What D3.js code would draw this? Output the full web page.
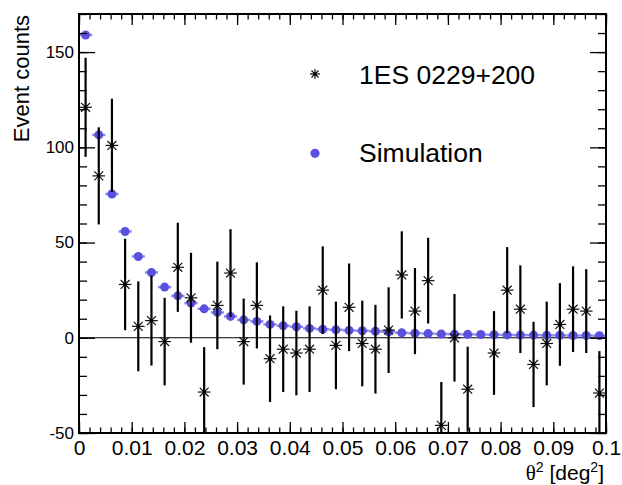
<!DOCTYPE html>
<html>
<head>
<meta charset="utf-8">
<script src="https://cdn.jsdelivr.net/npm/d3@7"></script>
<style>
  html, body { margin: 0; padding: 0; background: #fff; }
  svg { display: block; }
  text { font-family: "Liberation Sans", Arial, Helvetica, sans-serif; fill: #000; }
</style>
</head>
<body>
<script>
// theta^2 bins (centres, deg^2)
const binCenters = [
  0.00125, 0.00375, 0.00625, 0.00875, 0.01125, 0.01375, 0.01625, 0.01875,
  0.02125, 0.02375, 0.02625, 0.02875, 0.03125, 0.03375, 0.03625, 0.03875,
  0.04125, 0.04375, 0.04625, 0.04875, 0.05125, 0.05375, 0.05625, 0.05875,
  0.06125, 0.06375, 0.06625, 0.06875, 0.07125, 0.07375, 0.07625, 0.07875,
  0.08125, 0.08375, 0.08625, 0.08875, 0.09125, 0.09375, 0.09625, 0.09875
];
const binWidth = 0.0025;

// 1ES 0229+200 excess counts and their errors
const dataCounts = [
  121, 85, 101, 28, 6, 9, -2, 37,
  21, -28.5, 17, 34, -2, 17, -11, -6,
  -8, -6, 25, -4, 16, -3, -6, 4,
  33, 14, 30, -46, 0, -27, -78, -8,
  25, 15, -14, -3, 7, 15, 14, -29
];
const dataErrors = [
  26, 25.5, 24.5, 24, 23.6, 23.6, 23, 23.4,
  23.6, 23.6, 23, 23, 22.6, 22.6, 22.7, 22.5,
  22.2, 22.5, 23, 23, 23, 22.5, 23.3, 22.5,
  22.9, 22.6, 22.5, 22.8, 23, 22.3, 22, 22,
  22.6, 23, 22.4, 22, 21.7, 22.5, 22, 22
];

// Simulated point-source profile
const simCounts = [
  159, 106.5, 75.5, 55.8, 42.7, 34.3, 26.6, 22,
  18.2, 15.2, 13.3, 11.2, 9.4, 8.6, 7.0, 6.3,
  5.8, 4.9, 4.5, 4.2, 3.9, 3.7, 3.4, 3.1,
  2.6, 2.4, 2.2, 2.0, 1.9, 1.8, 1.7, 1.6,
  1.5, 1.4, 1.4, 1.3, 1.3, 1.2, 1.2, 1.1
];

// Axis ticks and labels
const xTickValues = [0, 0.01, 0.02, 0.03, 0.04, 0.05, 0.06, 0.07, 0.08, 0.09, 0.1];
const xTickLabels = ["0", "0.01", "0.02", "0.03", "0.04", "0.05", "0.06", "0.07", "0.08", "0.09", "0.1"];
const xMinorTicks = d3.range(0, 51).map(i => i * 0.002);
const yTickValues = [-50, 0, 50, 100, 150];
const yTickLabels = ["-50", "0", "50", "100", "150"];
const yMinorTicks = d3.range(-50, 171, 10);

const legendLabels = ["1ES 0229+200", "Simulation"];

const W = 622, H = 485;
const frame = { left: 79, right: 606, top: 14, bottom: 433 };
const simColor = "#5a50de";
const simBarColor = "#8f89ec";

const svg = d3.select("body").append("svg")
  .attr("width", W).attr("height", H)
  .attr("viewBox", `0 0 ${W} ${H}`);
svg.append("rect").attr("width", W).attr("height", H).attr("fill", "#fff");

const x = d3.scaleLinear().domain([0, 0.1]).range([frame.left, frame.right]);
const y = d3.scaleLinear().domain([-50, 170]).range([frame.bottom, frame.top]);

svg.append("clipPath").attr("id", "plot-clip")
  .append("rect")
  .attr("x", frame.left).attr("y", frame.top)
  .attr("width", frame.right - frame.left).attr("height", frame.bottom - frame.top);

const plot = svg.append("g").attr("clip-path", "url(#plot-clip)");

// zero line
plot.append("line")
  .attr("x1", x(0)).attr("x2", x(0.1))
  .attr("y1", y(0)).attr("y2", y(0))
  .attr("stroke", "#000").attr("stroke-width", 1.2);

const bins = binCenters.map((c, i) => ({
  c, v: dataCounts[i], e: dataErrors[i], s: simCounts[i]
}));

// simulation: bin-width bars and filled circles
plot.append("g").selectAll("line").data(bins).join("line")
  .attr("x1", d => x(d.c - binWidth / 2)).attr("x2", d => x(d.c + binWidth / 2))
  .attr("y1", d => y(d.s)).attr("y2", d => y(d.s))
  .attr("stroke", simBarColor).attr("stroke-width", 2.5);
plot.append("g").selectAll("circle").data(bins).join("circle")
  .attr("cx", d => x(d.c)).attr("cy", d => y(d.s)).attr("r", 4.5)
  .attr("fill", simColor);

// data: error bars
plot.append("g").selectAll("line").data(bins).join("line")
  .attr("x1", d => x(d.c)).attr("x2", d => x(d.c))
  .attr("y1", d => y(d.v - d.e)).attr("y2", d => y(d.v + d.e))
  .attr("stroke", "#000").attr("stroke-width", 2.2);

// asterisk marker
function star(g, r) {
  const a = r * Math.SQRT1_2;
  const segs = [[-r, 0, r, 0], [0, -r, 0, r], [-a, -a, a, a], [-a, a, a, -a]];
  g.selectAll("line.arm").data(segs).join("line").attr("class", "arm")
    .attr("x1", s => s[0]).attr("y1", s => s[1])
    .attr("x2", s => s[2]).attr("y2", s => s[3])
    .attr("stroke", "#111").attr("stroke-width", 1.2);
  g.append("rect").attr("x", -1.6).attr("y", -1.6).attr("width", 3.2).attr("height", 3.2)
    .attr("fill", "#000");
}

plot.append("g").selectAll("g").data(bins.filter(d => d.v >= -50 && d.v <= 170)).join("g")
  .attr("transform", d => `translate(${x(d.c)},${y(d.v)})`)
  .each(function () { star(d3.select(this), 6.3); });

// axes
const tickStroke = 1.3;
function styleAxis(g) {
  g.select(".domain").remove();
  g.selectAll(".tick line").attr("stroke", "#000").attr("stroke-width", tickStroke);
}

// bottom
svg.append("g").attr("transform", `translate(0,${frame.bottom})`)
  .call(d3.axisBottom(x).tickValues(xMinorTicks).tickSize(-5.5).tickFormat(""))
  .call(styleAxis).selectAll("text").remove();
svg.append("g").attr("transform", `translate(0,${frame.bottom})`)
  .call(d3.axisBottom(x).tickValues(xTickValues).tickSize(-11).tickPadding(7)
    .tickFormat((d, i) => xTickLabels[i]))
  .call(styleAxis)
  .call(g => g.selectAll("text").attr("font-size", 21)
    .attr("font-family", "'Liberation Sans', Arial, sans-serif").attr("fill", "#000"));

// top
svg.append("g").attr("transform", `translate(0,${frame.top})`)
  .call(d3.axisTop(x).tickValues(xMinorTicks).tickSize(-5.5).tickFormat(""))
  .call(styleAxis);
svg.append("g").attr("transform", `translate(0,${frame.top})`)
  .call(d3.axisTop(x).tickValues(xTickValues).tickSize(-11).tickFormat(""))
  .call(styleAxis);

// left
svg.append("g").attr("transform", `translate(${frame.left},0)`)
  .call(d3.axisLeft(y).tickValues(yMinorTicks).tickSize(-8).tickFormat(""))
  .call(styleAxis);
svg.append("g").attr("transform", `translate(${frame.left},0)`)
  .call(d3.axisLeft(y).tickValues(yTickValues).tickSize(-16).tickPadding(5)
    .tickFormat((d, i) => yTickLabels[i]))
  .call(styleAxis)
  .call(g => g.selectAll("text").attr("font-size", 17)
    .attr("font-family", "'Liberation Sans', Arial, sans-serif").attr("fill", "#000"));

// right
svg.append("g").attr("transform", `translate(${frame.right},0)`)
  .call(d3.axisRight(y).tickValues(yMinorTicks).tickSize(-8).tickFormat(""))
  .call(styleAxis);
svg.append("g").attr("transform", `translate(${frame.right},0)`)
  .call(d3.axisRight(y).tickValues(yTickValues).tickSize(-16).tickFormat(""))
  .call(styleAxis);

// frame
svg.append("rect")
  .attr("x", frame.left).attr("y", frame.top)
  .attr("width", frame.right - frame.left).attr("height", frame.bottom - frame.top)
  .attr("fill", "none").attr("stroke", "#000").attr("stroke-width", 2);

// axis titles
svg.append("text")
  .attr("transform", `translate(29,${frame.top + 1}) rotate(-90)`)
  .attr("text-anchor", "end").attr("font-size", 22)
  .text("Event counts");

const xt = svg.append("text")
  .attr("x", 604).attr("y", 480)
  .attr("text-anchor", "end").attr("font-size", 21);
xt.append("tspan").attr("font-family", "'Liberation Serif', 'Times New Roman', serif").text("θ");
xt.append("tspan").attr("font-size", 14).attr("dy", -8).text("2");
xt.append("tspan").attr("dy", 8).text(" [deg");
xt.append("tspan").attr("font-size", 14).attr("dy", -8).text("2");
xt.append("tspan").attr("dy", 8).text("]");

// legend
const legend = svg.append("g");
const l1 = legend.append("g").attr("transform", "translate(315,74)");
star(l1, 5);
legend.append("text").attr("x", 359).attr("y", 83.5).attr("font-size", 26.5).text(legendLabels[0]);
legend.append("circle").attr("cx", 315).attr("cy", 153.3).attr("r", 4.6).attr("fill", simColor);
legend.append("text").attr("x", 359).attr("y", 162).attr("font-size", 26.5).text(legendLabels[1]);
</script>
</body>
</html>
